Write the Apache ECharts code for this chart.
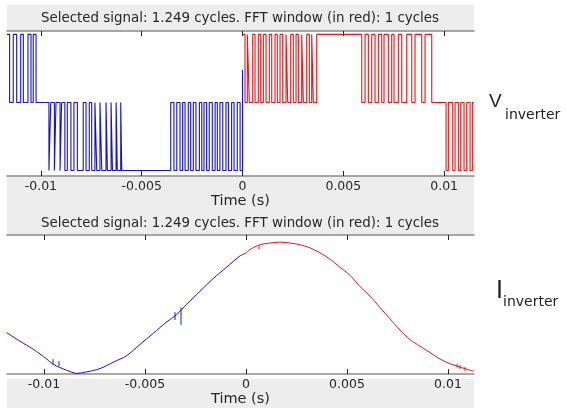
<!DOCTYPE html>
<html><head><meta charset="utf-8">
<script src="https://cdn.jsdelivr.net/npm/echarts@6/dist/echarts.min.js"></script>
<style>html,body{margin:0;padding:0;background:#fff}#c{width:566px;height:408px}</style>
</head><body><div id="c"></div>
<script>
const xTicks = [-0.01, -0.005, 0, 0.005, 0.01];
const xTickLabels = ['-0.01', '-0.005', '0', '0.005', '0.01'];
const titleText = 'Selected signal: 1.249 cycles. FFT window (in red): 1 cycles';
const xName = 'Time (s)';
const vLabel = ['V', 'inverter'];
const iLabel = ['I', 'inverter'];

// Inverter voltage (blue part, t < 0): switching instants in ms and level after each instant
const vBlueT = [-11.68, -11.55, -11.37, -11.20, -11.00, -10.87, -10.64, -10.49, -10.38, -10.24,
  -9.60, -9.51, -9.33, -9.25, -9.05, -8.97, -8.81, -8.69, -8.51, -8.36,
  -8.19, -7.90, -7.76, -7.60, -7.48, -7.32, -7.23, -7.07, -6.98, -6.77,
  -6.70, -6.52, -6.45, -6.27, -6.21, -6.04, -5.99,
  -3.56, -3.40, -3.26, -3.10, -2.97, -2.85, -2.69, -2.57, -2.44, -2.31,
  -2.14, -2.02, -1.91, -1.78, -1.65, -1.50, -1.36, -1.25, -1.12, -0.98,
  -0.82, -0.70, -0.54, -0.42, -0.26, -0.12, 0];
const vBlueV = [1, 0, 1, 0, 1, 0, 1, 0, 1, 0,
  -1, 0, -1, 0, -1, 0, -1, 0, -1, 0,
  -1, 0, -1, 0, -1, 0, -1, 0, -1, 0,
  -1, 0, -1, 0, -1, 0, -1,
  0, -1, 0, -1, 0, -1, 0, -1, 0, -1,
  0, -1, 0, -1, 0, -1, 0, -1, 0, -1,
  0, -1, 0, -1, 0, -1, 0.48];
// Inverter voltage (red part, FFT window)
const vRedT = [0, 0.124, 0.238, 0.337, 0.506, 0.620, 0.784, 0.903, 1.032, 1.166,
  1.329, 1.448, 1.612, 1.726, 1.860, 1.994, 2.158, 2.242, 2.391, 2.519,
  2.654, 2.768, 2.936, 3.016, 3.184, 3.313, 3.432, 3.512, 3.680,
  5.912, 6.076, 6.240, 6.408, 6.572, 6.736, 6.904, 7.018, 7.232, 7.400,
  7.514, 7.728, 7.896, 8.144, 8.392, 8.556, 8.888, 9.052, 9.384,
  10.094, 10.208, 10.426, 10.540, 10.704, 10.823, 10.986, 11.120, 11.284, 11.398, 11.48];
const vRedV = [1, 0, 1, 0, 1, 0, 1, 0, 1, 0,
  1, 0, 1, 0, 1, 0, 1, 0, 1, 0,
  1, 0, 1, 0, 1, 0, 1, 0, 1,
  0, 1, 0, 1, 0, 1, 0, 1, 0, 1,
  0, 1, 0, 1, 0, 1, 0, 1, 0,
  -1, 0, -1, 0, -1, 0, -1, 0, -1, 0, 0];

// Inverter current samples (ms, per-unit)
const iBlueT = [-11.85, -11.19, -10.53, -9.87, -9.54, -8.88, -8.38, -7.89, -7.23, -6.57,
  -5.91, -5.25, -4.59, -3.93, -3.43, -2.94, -2.28, -1.62, -0.96, -0.30, 0];
const iBlueV = [-0.388, -0.522, -0.646, -0.796, -0.880, -0.970, -1.019, -0.996, -0.945, -0.846,
  -0.746, -0.572, -0.399, -0.224, -0.110, 0.049, 0.249, 0.448, 0.622, 0.796, 0.84];
const iRedT = [0, 0.20, 0.69, 1.19, 1.68, 2.18, 2.67, 3.17, 3.66, 4.16,
  4.65, 5.15, 5.64, 6.14, 6.63, 7.13, 7.62, 8.12, 8.61, 9.11,
  9.60, 10.10, 10.59, 11.09, 11.29];
const iRedV = [0.84, 0.896, 0.970, 0.996, 1.010, 0.996, 0.970, 0.921, 0.846, 0.746,
  0.622, 0.497, 0.324, 0.175, 0.0, -0.175, -0.348, -0.497, -0.597, -0.697,
  -0.796, -0.870, -0.921, -0.970, -0.985];
// Switching spikes on the current trace: time (ms), from, to
const iBlueSpikeT = [-9.554, -9.257, -3.515, -3.218];
const iBlueSpikeFrom = [-0.88, -0.91, -0.075, 0.0];
const iBlueSpikeTo = [-0.80, -0.83, -0.194, -0.269];
const iRedSpikeT = [0.644, 10.45, 10.59, 10.84];
const iRedSpikeFrom = [0.955, -0.87, -0.89, -0.92];
const iRedSpikeTo = [0.896, -0.93, -0.95, -0.98];

const ms = t => t / 1000;
const zip = (t, v) => t.map((x, i) => [ms(x), v[i]]);
const spikes = (t, a, b) => t.flatMap((x, i) => [[ms(x), a[i]], [ms(x), b[i]], [ms(x), '-']]);
const BLUE = '#1414c4', RED = '#e01a1a';
const FONT = 'DejaVu Sans';

function xAxes(gi, min, max) {
  const common = {
    type: 'value', gridIndex: gi, min: min, max: max,
    splitLine: { show: false },
    axisLine: { show: true, onZero: false, lineStyle: { color: '#8a8a8a', width: 1.5 } },
    axisTick: { show: true, inside: true, length: 5, customValues: xTicks, lineStyle: { color: '#222', width: 1 } }
  };
  return [
    Object.assign({}, common, {
      position: 'bottom',
      name: xName, nameLocation: 'middle', nameGap: 16,
      nameTextStyle: { fontFamily: FONT, fontSize: 14.5, color: '#262626' },
      axisLabel: {
        show: true, margin: 4, customValues: xTicks,
        formatter: v => xTickLabels[xTicks.findIndex(x => Math.abs(x - v) < 1e-9)] || '',
        fontFamily: FONT, fontSize: 12.5, color: '#262626'
      }
    }),
    Object.assign({}, common, { position: 'top', axisLabel: { show: false } })
  ];
}

const chart = echarts.init(document.getElementById('c'), null, { renderer: 'canvas' });
chart.setOption({
  animation: false,
  backgroundColor: '#fff',
  grid: [
    { left: 7, top: 31, width: 467, height: 145, backgroundColor: '#fff', show: true, borderWidth: 0 },
    { left: 7, top: 235, width: 467, height: 144, backgroundColor: '#fff', show: true, borderWidth: 0 }
  ],
  xAxis: [].concat(xAxes(0, -0.01168, 0.01148), xAxes(1, -0.011832, 0.011287)),
  yAxis: [
    { type: 'value', gridIndex: 0, min: -1.08, max: 1.05, show: false },
    { type: 'value', gridIndex: 1, min: -1.03, max: 1.12, show: false }
  ],
  graphic: { elements: [
    { type: 'rect', z: -10, silent: true, shape: { x: 7, y: 5, width: 467, height: 26 }, style: { fill: '#ededed' } },
    { type: 'rect', z: -10, silent: true, shape: { x: 7, y: 176, width: 467, height: 59 }, style: { fill: '#ededed' } },
    { type: 'rect', z: -10, silent: true, shape: { x: 7, y: 379, width: 467, height: 29 }, style: { fill: '#ededed' } },
    { type: 'text', x: 240, y: 19, style: { text: titleText, font: '13.4px "DejaVu Sans"', fill: '#262626', textAlign: 'center', textVerticalAlign: 'middle' } },
    { type: 'text', x: 240, y: 224, style: { text: titleText, font: '13.4px "DejaVu Sans"', fill: '#262626', textAlign: 'center', textVerticalAlign: 'middle' } },
    { type: 'text', x: 489, y: 102, style: { text: vLabel[0], font: '19px "Liberation Sans"', fill: '#222', textAlign: 'left', textVerticalAlign: 'middle' } },
    { type: 'text', x: 505, y: 115, style: { text: vLabel[1], font: '14px "DejaVu Sans"', fill: '#222', textAlign: 'left', textVerticalAlign: 'middle' } },
    { type: 'text', x: 496, y: 291, style: { text: iLabel[0], font: '25px "Liberation Sans"', fill: '#222', textAlign: 'left', textVerticalAlign: 'middle' } },
    { type: 'text', x: 503, y: 302, style: { text: iLabel[1], font: '14px "DejaVu Sans"', fill: '#222', textAlign: 'left', textVerticalAlign: 'middle' } }
  ]},
  series: [
    { type: 'line', xAxisIndex: 0, yAxisIndex: 0, step: 'end', showSymbol: false, data: zip(vBlueT, vBlueV), lineStyle: { color: BLUE, width: 1.1 }, z: 3 },
    { type: 'line', xAxisIndex: 0, yAxisIndex: 0, step: 'end', showSymbol: false, data: zip(vRedT, vRedV), lineStyle: { color: RED, width: 1.1 }, z: 3 },
    { type: 'line', xAxisIndex: 2, yAxisIndex: 1, showSymbol: false, smooth: 0.3, data: zip(iBlueT, iBlueV), lineStyle: { color: BLUE, width: 1 }, z: 3 },
    { type: 'line', xAxisIndex: 2, yAxisIndex: 1, showSymbol: false, smooth: 0.3, data: zip(iRedT, iRedV), lineStyle: { color: RED, width: 1 }, z: 3 },
    { type: 'line', xAxisIndex: 2, yAxisIndex: 1, showSymbol: false, connectNulls: false, data: spikes(iBlueSpikeT, iBlueSpikeFrom, iBlueSpikeTo), lineStyle: { color: BLUE, width: 1 }, z: 3 },
    { type: 'line', xAxisIndex: 2, yAxisIndex: 1, showSymbol: false, connectNulls: false, data: spikes(iRedSpikeT, iRedSpikeFrom, iRedSpikeTo), lineStyle: { color: RED, width: 1 }, z: 3 }
  ]
});
</script></body></html>
